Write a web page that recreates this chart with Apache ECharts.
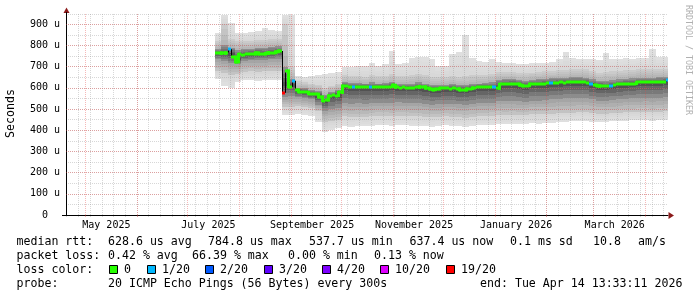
<!DOCTYPE html>
<html><head><meta charset="utf-8">
<script src="https://cdn.jsdelivr.net/npm/echarts@6/dist/echarts.min.js"></script>
<style>html,body{margin:0;padding:0;background:#fff}#c{width:697px;height:297px}</style>
</head><body><div id="c"></div>
<script>
// ---------- data ----------
const rangeEndUTC = [2026, 3, 14, 13, 33, 11];   // end: Tue Apr 14 13:33:11 2026
const rangeDays = 360;
const firstBinUTC = [2025, 6, 17, 12, 0, 0];     // first data bin (Jul 17 2025)
const medianBinDays = 2;
const smokeBinDays = 4;

const yTickValues = [0, 100, 200, 300, 400, 500, 600, 700, 800, 900];
const yTickLabels = ['0  ', '100 u', '200 u', '300 u', '400 u', '500 u', '600 u', '700 u', '800 u', '900 u'];
const xTickLabels = ['May 2025', 'July 2025', 'September 2025', 'November 2025', 'January 2026', 'March 2026'];
const xTickMonths = [[2025, 4], [2025, 6], [2025, 8], [2025, 10], [2026, 0], [2026, 2]];

// median rtt (us), one value per 2-day bin
const medianRtt = [
  764,765,762,766,782,745,722,757,756,758,757,759,765,760,759,762,766,765,770,774,
  577,680,605,633,590,581,581,579,573,572,570,557,540,542,562,564,563,578,
  608,608,606,605,604,603,604,603,603,602,602,604,605,605,606,612,602,601,602,601,
  600,601,602,606,605,598,594,591,594,597,597,597,596,597,596,590,589,595,596,600,
  602,602,602,603,602,605,597,616,618,619,619,620,618,612,609,610,617,619,618,619,
  620,621,622,622,624,625,624,626,628,628,626,625,626,624,620,613,610,607,607,608,
  610,614,616,617,617,619,620,620,625,626,627,627,626,628,628,628,629,635
];
// bins with packet loss: index into medianRtt, loss class (index into lossLabels)
const lossBinIndex = [4, 20, 23, 41, 46, 83, 100, 112, 118, 135];
const lossBinClass = [1, 6, 1, 1, 1, 1, 1, 1, 1, 1];

// smoke (ping distribution) per 4-day bin, in us
const smokeMin = [
  640,610,600,628,635,635,632,635,635,638,
  470,470,475,470,465,440,392,400,410,
  420,415,420,418,420,425,425,422,425,425,
  420,420,418,415,420,425,420,418,415,420,
  425,425,425,430,428,430,428,430,432,430,
  432,435,440,440,442,445,445,440,440,440,
  442,445,445,448,448,448,445,448,450
];
const smokeLow = [
  680,670,660,665,675,678,675,678,678,680,
  510,510,515,510,505,490,440,445,450,
  465,460,462,460,465,468,468,465,468,468,
  465,465,462,460,462,465,462,460,458,462,
  465,465,468,472,470,472,470,472,475,475,
  475,478,480,482,482,485,485,480,478,478,
  480,482,485,485,488,488,485,488,490
];
const smokeCoreLow = [
  735,728,715,710,728,730,732,732,735,738,
  555,560,555,550,545,520,490,500,505,
  530,525,528,525,530,530,530,530,532,530,
  530,530,525,520,522,525,525,522,520,525,
  528,530,530,540,540,540,538,535,540,540,
  542,545,548,550,550,552,550,545,540,540,
  542,545,548,550,550,552,550,552,555
];
const smokeCoreHigh = [
  785,800,790,780,785,785,790,790,792,795,
  700,640,600,600,590,585,565,580,590,
  625,622,622,620,625,620,622,628,620,620,
  620,625,620,612,615,615,617,612,612,618,
  620,622,625,638,640,640,635,632,638,640,
  642,645,645,648,650,650,648,640,632,632,
  635,640,642,645,648,648,648,650,652
];
const smokeHigh = [
  820,900,830,820,820,822,825,825,828,830,
  900,700,630,625,620,615,600,610,620,
  660,655,655,650,660,655,655,665,655,655,
  660,665,660,650,650,650,655,650,655,660,
  660,660,665,675,675,675,670,668,672,675,
  680,680,685,685,688,690,688,680,672,675,
  678,680,682,685,688,688,690,690,690
];
const smokeMax = [
  860,945,905,860,858,862,870,880,872,868,
  945,945,655,650,655,660,665,670,675,
  700,700,705,705,715,705,710,775,712,715,
  740,745,745,735,705,705,760,770,848,740,
  725,722,735,720,718,715,712,710,715,715,
  718,720,735,770,740,738,735,735,730,765,
  735,735,740,738,742,740,785,745,745
];

const lossLabels = ['0', '1/20', '2/20', '3/20', '4/20', '10/20', '19/20'];
const lossColors = ['#26ff00', '#00b8ff', '#0059ff', '#5e00ff', '#7e00ff', '#dd00ff', '#ff0000'];

const statsRow1 = [['median rtt:', 16.5], ['628.6 us avg', 108], ['784.8 us max', 208], ['537.7 us min', 309], ['637.4 us now', 409.5], ['0.1 ms sd', 510], ['10.8', 593], ['am/s', 638]];
const statsRow2 = [['packet loss:', 16.5], ['0.42 % avg', 108], ['66.39 % max', 192], ['0.00 % min', 288], ['0.13 % now', 374]];
const probeRow = [['probe:', 16.5], ['20 ICMP Echo Pings (56 Bytes) every 300s', 108], ['end: Tue Apr 14 13:33:11 2026', 480]];

// ---------- build ----------
const DAY = 86400000;
const tEnd = Date.UTC.apply(null, rangeEndUTC);
const tStart = tEnd - rangeDays * DAY;
const t0 = Date.UTC.apply(null, firstBinUTC);
const FONT = '"DejaVu Sans Mono", monospace';

const monthTicks = [];
for (let y = 2025, m = 0; ; m++) {
  const t = Date.UTC(y, m, 1);
  if (t > tEnd) break;
  if (t >= tStart) monthTicks.push(t);
}
const weekTicks = [];
for (let t = Date.UTC(2025, 3, 20); t < tEnd; t += 7 * DAY) if (t > tStart) weekTicks.push(t);
const labelOffsetDays = 12.7;
const xLabelValues = xTickMonths.map(([y, m]) => Date.UTC(y, m, 1) + labelOffsetDays * DAY);

const lossOf = medianRtt.map(() => 0);
lossBinIndex.forEach((b, k) => { lossOf[b] = lossBinClass[k]; });

const medianData = medianRtt.map((v, i) => {
  const a = t0 + i * medianBinDays * DAY;
  const pv = i > 0 ? medianRtt[i - 1] : v;
  const pl = i > 0 ? lossOf[i - 1] : lossOf[i];
  return [a, a + medianBinDays * DAY, v, pv, lossOf[i], pl];
});
const smokeData = smokeMin.map((v, j) => {
  const a = t0 + j * smokeBinDays * DAY;
  const per = smokeBinDays / medianBinDays;
  let s = 0, n = 0;
  for (let k = 0; k < per; k++) { const m = medianRtt[j * per + k]; if (m != null) { s += m; n++; } }
  const med = s / n;
  return [a, a + smokeBinDays * DAY, v, smokeLow[j], smokeCoreLow[j], med, smokeCoreHigh[j], smokeHigh[j], smokeMax[j]];
});

const shades = [[224, 212], [200, 160], [150, 72], [90, 150], [178, 206], [215, 224]];
function renderSmoke(params, api) {
  const ta = api.value(0), tb = api.value(1);
  const v = [];
  for (let k = 2; k <= 8; k++) v.push(api.value(k));
  for (let k = 1; k < v.length; k++) if (v[k] < v[k - 1]) v[k] = v[k - 1];
  const xa = Math.round(api.coord([ta, 0])[0]);
  const xb = Math.round(api.coord([tb, 0])[0]);
  const children = [];
  const N = 4;
  for (let k = 0; k < 6; k++) {
    const a = v[k], b = v[k + 1];
    if (b <= a) continue;
    for (let s = 0; s < N; s++) {
      const va = a + (b - a) * s / N, vb = a + (b - a) * (s + 1) / N;
      const ya = Math.round(api.coord([ta, va])[1]);
      const yb = Math.round(api.coord([ta, vb])[1]);
      if (ya - yb <= 0) continue;
      const g = Math.round(shades[k][0] + (shades[k][1] - shades[k][0]) * (s + 0.5) / N);
      children.push({ type: 'rect', shape: { x: xa, y: yb, width: xb - xa, height: ya - yb },
        style: { fill: 'rgb(' + g + ',' + g + ',' + g + ')' } });
    }
  }
  return { type: 'group', children };
}
function renderMedian(params, api) {
  const ta = api.value(0), tb = api.value(1), m = api.value(2), pm = api.value(3);
  const lv = api.value(4), plv = api.value(5);
  const xa = Math.round(api.coord([ta, m])[0]);
  const xb = Math.round(api.coord([tb, m])[0]);
  const y = api.coord([ta, m])[1];
  const py = api.coord([ta, pm])[1];
  const col = lossColors[lv];
  const children = [];
  const top = Math.min(y, py), bot = Math.max(y, py);
  if (bot - top > 0.5) {
    children.push({ type: 'rect', shape: { x: xa, y: top, width: 1, height: bot - top }, style: { fill: '#000' } });
    if (lv === plv) children.push({ type: 'rect', shape: { x: xa - 1, y: top - 1.5, width: 3, height: bot - top + 3 }, style: { fill: col } });
  }
  children.push({ type: 'rect', shape: { x: xa, y: Math.round(y) - 1.5, width: xb - xa, height: 3 }, style: { fill: col } });
  return { type: 'group', children };
}

const graphic = [];
function txt(x, y, s, extra) {
  graphic.push(Object.assign({ type: 'text', x: x, y: y, z: 10,
    style: { text: s, font: '11.6px ' + FONT, fill: '#000', align: 'left', verticalAlign: 'middle' } }, extra || {}));
}
statsRow1.forEach(([s, x]) => txt(x, 241.5, s));
statsRow2.forEach(([s, x]) => txt(x, 255.5, s));
txt(16.5, 269.5, 'loss color:');
const boxX = [109, 147, 205, 264, 322, 380, 446];
lossLabels.forEach((l, k) => {
  graphic.push({ type: 'rect', z: 10, shape: { x: boxX[k] + 0.5, y: 265.5, width: 8, height: 8 },
    style: { fill: lossColors[k], stroke: '#000', lineWidth: 1 } });
  txt(boxX[k] + 15, 269.5, l);
});
probeRow.forEach(([s, x]) => txt(x, 283.5, s));
graphic.push({ type: 'text', x: 11, y: 113.5, rotation: Math.PI / 2, z: 10,
  style: { text: 'Seconds', font: '11.6px ' + FONT, fill: '#000', align: 'center', verticalAlign: 'middle' } });
graphic.push({ type: 'text', x: 688, y: 60, rotation: -Math.PI / 2, z: 10,
  style: { text: 'RRDTOOL / TOBI OETIKER', font: '8.3px ' + FONT, fill: '#b0b0b0', align: 'center', verticalAlign: 'middle' } });
graphic.push({ type: 'polygon', z: 10, shape: { points: [[63.5, 13], [66.5, 7.5], [69.5, 13]] }, style: { fill: '#8b1a1a' } });
graphic.push({ type: 'polygon', z: 10, shape: { points: [[668.5, 212], [674, 215.5], [668.5, 219]] }, style: { fill: '#8b1a1a' } });
graphic.push({ type: 'line', z: 10, shape: { x1: 62, y1: 215.5, x2: 66, y2: 215.5 }, style: { stroke: '#000', lineWidth: 1 } });
graphic.push({ type: 'line', z: 10, shape: { x1: 66.5, y1: 12, x2: 66.5, y2: 15 }, style: { stroke: '#000', lineWidth: 1 } });

const gridGray = 'rgba(150,150,150,0.38)';
const gridRed = 'rgba(230,70,70,0.38)';

const chart = echarts.init(document.getElementById('c'), null, { renderer: 'canvas' });
chart.setOption({
  animation: false,
  backgroundColor: '#fff',
  grid: { left: 66, right: 29, top: 14, bottom: 82 },
  xAxis: [
    { type: 'value', min: tStart, max: tEnd, z: 5,
      axisLine: { show: true, lineStyle: { color: '#000', width: 1 } },
      axisTick: { show: true, customValues: monthTicks, length: 2, lineStyle: { color: gridRed } },
      splitLine: { show: true, lineStyle: { color: gridRed, type: [1, 1], width: 1 } },
      axisLabel: { show: true, customValues: xLabelValues, margin: 5, color: '#000',
        fontFamily: FONT, fontSize: 10,
        formatter: (v) => { let best = 0; xLabelValues.forEach((x, i) => { if (Math.abs(x - v) < Math.abs(xLabelValues[best] - v)) best = i; }); return xTickLabels[best]; } } },
    { type: 'value', min: tStart, max: tEnd, z: 4, position: 'bottom',
      axisLine: { show: false },
      axisTick: { show: true, customValues: weekTicks, length: 2, lineStyle: { color: gridGray } },
      splitLine: { show: true, lineStyle: { color: gridGray, type: [1, 1], width: 1 } },
      axisLabel: { show: false } }
  ],
  yAxis: [
    { type: 'value', min: 0, max: 948, interval: 50, z: 4,
      axisLine: { show: true, lineStyle: { color: '#000', width: 1 } },
      axisTick: { show: false },
      splitLine: { show: true, showMaxLine: true, lineStyle: { color: gridGray, type: [1, 1], width: 1 } },
      axisLabel: { show: false } },
    { type: 'value', min: 0, max: 948, interval: 100, z: 5, position: 'left',
      axisLine: { show: false }, axisTick: { show: false },
      splitLine: { show: true, showMaxLine: false, showMinLine: false, lineStyle: { color: gridRed, type: [1, 1], width: 1 } },
      axisLabel: { show: true, showMaxLabel: false, margin: 6, color: '#000', fontFamily: FONT, fontSize: 10,
        formatter: (v) => { const i = yTickValues.indexOf(v); return i >= 0 ? yTickLabels[i] : ''; } } }
  ],
  series: [
    { type: 'custom', name: 'smoke', z: 1, clip: true, xAxisIndex: 0, yAxisIndex: 0,
      renderItem: renderSmoke, encode: { x: [0, 1], y: [2, 8] }, data: smokeData, silent: true },
    { type: 'custom', name: 'median', z: 8, clip: true, xAxisIndex: 0, yAxisIndex: 0,
      renderItem: renderMedian, encode: { x: [0, 1], y: 2 }, data: medianData, silent: true }
  ],
  graphic: graphic
});
</script>
</body></html>
